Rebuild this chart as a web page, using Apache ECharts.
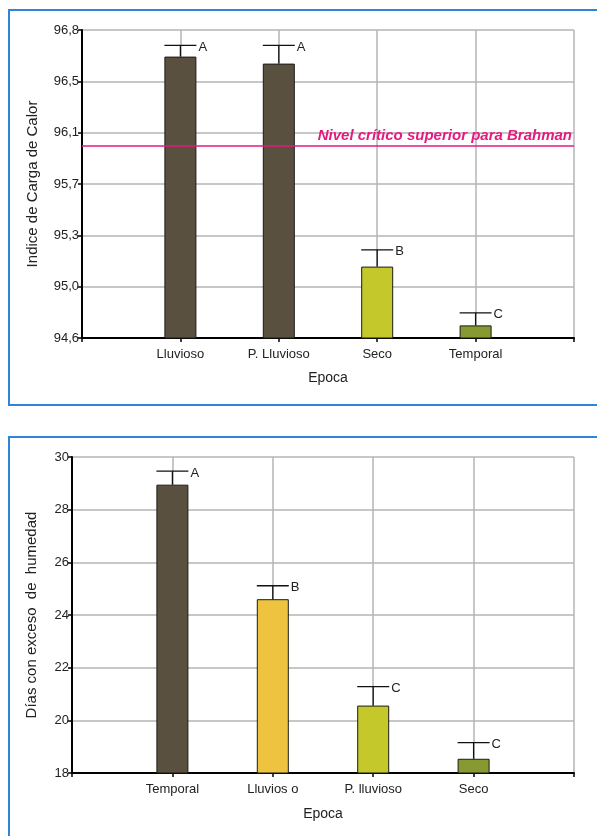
<!DOCTYPE html>
<html>
<head>
<meta charset="utf-8">
<script src="https://cdn.jsdelivr.net/npm/echarts@6/dist/echarts.min.js"></script>
<style>
  html, body { margin: 0; padding: 0; background: #fff; }
  #chart { width: 597px; height: 836px; }
</style>
</head>
<body>
<div id="chart"></div>
<script>
// grafico 1: indice de carga de calor por epoca
var topCats = ['Lluvioso', 'P. Lluvioso', 'Seco', 'Temporal'];
var topMeans = [96.61, 96.56, 95.11, 94.69];
var topErr = [96.69, 96.69, 95.23, 94.78];
var topLetters = ['A', 'A', 'B', 'C'];
var topTicks = ['94,6', '95,0', '95,3', '95,7', '96,1', '96,5', '96,8'];
var nivelCritico = 95.97;

// grafico 2: dias con exceso de humedad
var botCats = ['Temporal', 'Lluvios o', 'P. lluvioso', 'Seco'];
var botMeans = [28.95, 24.6, 20.56, 18.54];
var botErr = [29.46, 25.11, 21.28, 19.15];
var botLetters = ['A', 'B', 'C', 'C'];

var cDark = '#595040';
var cYellow = '#edc33f';
var cLime = '#c4c82b';
var cOlive = '#869a31';
var topColors = [cDark, cDark, cLime, cOlive];
var botColors = [cDark, cYellow, cLime, cOlive];

var font = 'Liberation Sans, Arial, sans-serif';
var yMin = 94.6, yMax = 96.8, yStep = (96.8 - 94.6) / 6;

function padCats(c) { return [''].concat(c, ['']); }

function barData(vals, colors) {
    var d = ['-'];
    vals.forEach(function (v, i) {
        d.push({ value: v, itemStyle: { color: colors[i] } });
    });
    d.push('-');
    return d;
}

function errData(means, errs) {
    return means.map(function (m, i) { return [i + 1, m, errs[i]]; });
}

function errRender(letters) {
    return function (params, api) {
        var p0 = api.coord([api.value(0), api.value(1)]);
        var p1 = api.coord([api.value(0), api.value(2)]);
        var half = 16;
        var st = { stroke: '#111', lineWidth: 1.3 };
        return {
            type: 'group',
            children: [
                { type: 'line', shape: { x1: p0[0], y1: p0[1], x2: p1[0], y2: p1[1] }, style: st },
                { type: 'line', shape: { x1: p0[0] - half, y1: p1[1], x2: p0[0] + half, y2: p1[1] }, style: st },
                { type: 'text', x: p0[0] + half + 2, y: p1[1] + 2,
                  style: { text: letters[params.dataIndex], fill: '#222', font: '13px ' + font,
                           align: 'left', verticalAlign: 'middle' } }
            ]
        };
    };
}

var axisLine = { show: true, lineStyle: { color: '#000', width: 2 } };
var splitLine = { show: true, lineStyle: { color: '#b4b4b4', width: 1.5 } };
var tickStyle = { show: true, length: 4, lineStyle: { color: '#000', width: 1.5 } };
var labelStyle = { color: '#222', fontSize: 13, fontFamily: font };
var nameStyle = { color: '#222', fontSize: 14, fontFamily: font };

var chart = echarts.init(document.getElementById('chart'), null, { renderer: 'canvas' });

var option = {
    backgroundColor: '#fff',
    animation: false,
    graphic: [
        { type: 'rect', shape: { x: 9, y: 10, width: 640, height: 395 },
          style: { fill: 'none', stroke: '#2f86d4', lineWidth: 2 } },
        { type: 'rect', shape: { x: 9, y: 437, width: 640, height: 430 },
          style: { fill: 'none', stroke: '#2f86d4', lineWidth: 2 } }
    ],
    grid: [
        { left: 82, top: 30, right: 23, height: 308 },
        { left: 72, top: 457, right: 23, height: 316 }
    ],
    xAxis: [
        {
            gridIndex: 0, type: 'category', data: padCats(topCats), boundaryGap: false,
            name: 'Epoca', nameLocation: 'middle', nameGap: 33, nameTextStyle: nameStyle,
            axisLine: axisLine, axisTick: tickStyle, splitLine: splitLine,
            axisLabel: Object.assign({ margin: 10, interval: 0 }, labelStyle)
        },
        {
            gridIndex: 1, type: 'category', data: padCats(botCats), boundaryGap: false,
            name: 'Epoca', nameLocation: 'middle', nameGap: 34, nameTextStyle: nameStyle,
            axisLine: axisLine, axisTick: tickStyle, splitLine: splitLine,
            axisLabel: Object.assign({ margin: 10, interval: 0 }, labelStyle)
        }
    ],
    yAxis: [
        {
            gridIndex: 0, type: 'value', min: yMin, max: yMax, interval: yStep,
            name: 'Indice de Carga de Calor', nameLocation: 'middle', nameGap: 42,
            nameTextStyle: Object.assign({}, nameStyle, { fontSize: 15 }),
            axisLine: axisLine, axisTick: tickStyle, splitLine: splitLine,
            axisLabel: Object.assign({
                margin: 3,
                formatter: function (v) {
                    var t = topTicks[Math.round((v - yMin) / yStep)];
                    return t || '';
                }
            }, labelStyle)
        },
        {
            gridIndex: 1, type: 'value', min: 18, max: 30, interval: 2,
            name: 'Días con exceso  de  humedad', nameLocation: 'middle', nameGap: 33,
            nameTextStyle: Object.assign({}, nameStyle, { fontSize: 15 }),
            axisLine: axisLine, axisTick: tickStyle, splitLine: splitLine,
            axisLabel: Object.assign({ margin: 3 }, labelStyle)
        }
    ],
    series: [
        {
            type: 'line', xAxisIndex: 0, yAxisIndex: 0, data: [], z: 1,
            markLine: {
                silent: true, symbol: 'none',
                lineStyle: { color: '#e6197f', width: 1.5, type: 'solid' },
                label: {
                    show: true, position: 'insideEndTop', distance: [2, 3],
                    formatter: 'Nivel crítico superior para Brahman',
                    color: '#e6197f', fontSize: 15, fontStyle: 'italic', fontWeight: 'bold',
                    fontFamily: font, textShadowColor: 'rgba(140,0,70,0.35)',
                    textShadowBlur: 0, textShadowOffsetX: 1, textShadowOffsetY: 1
                },
                data: [{ yAxis: nivelCritico }]
            }
        },
        {
            type: 'bar', xAxisIndex: 0, yAxisIndex: 0, barWidth: 32, z: 3,
            itemStyle: { borderColor: '#1a1a1a', borderWidth: 1 },
            data: barData(topMeans, topColors)
        },
        {
            type: 'custom', xAxisIndex: 0, yAxisIndex: 0, z: 4,
            renderItem: errRender(topLetters),
            encode: { x: 0, y: [1, 2] },
            data: errData(topMeans, topErr)
        },
        {
            type: 'bar', xAxisIndex: 1, yAxisIndex: 1, barWidth: 32, z: 3,
            itemStyle: { borderColor: '#1a1a1a', borderWidth: 1 },
            data: barData(botMeans, botColors)
        },
        {
            type: 'custom', xAxisIndex: 1, yAxisIndex: 1, z: 4,
            renderItem: errRender(botLetters),
            encode: { x: 0, y: [1, 2] },
            data: errData(botMeans, botErr)
        }
    ]
};

chart.setOption(option);
</script>
</body>
</html>
